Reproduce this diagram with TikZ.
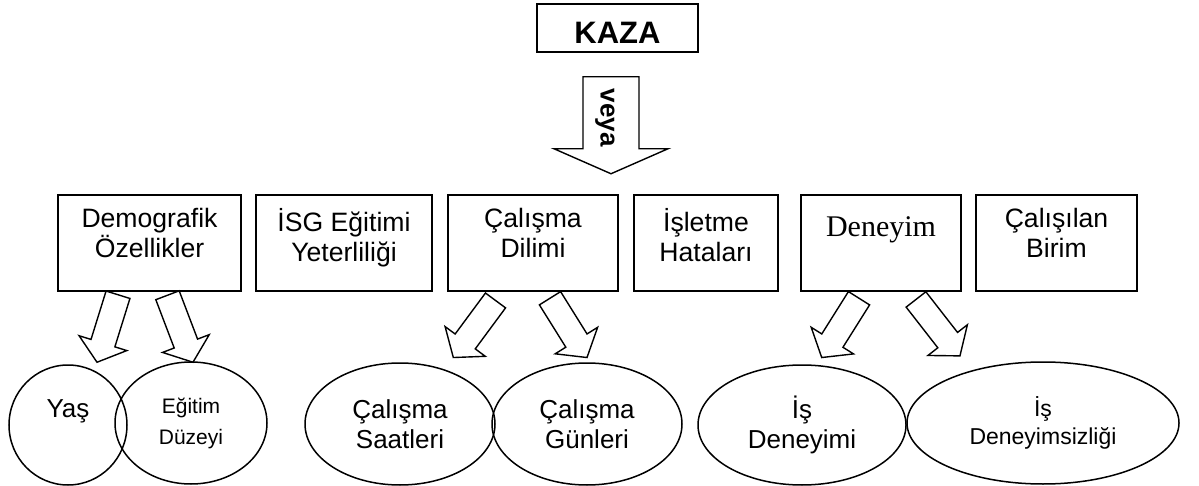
\documentclass[tikz,border=0pt]{standalone}
\usepackage{fontspec}
\setmainfont{Liberation Sans}
\newfontfamily\timesfont{Liberation Serif}
\usetikzlibrary{shapes.geometric,positioning,calc}
\tikzset{every picture/.style={line width=0.75pt}}
\tikzset{
  kutu/.style={draw, rectangle, minimum width=#1, minimum height=48pt, inner sep=0pt},
  kutuyazi/.style={inner sep=0pt, align=center, font=\fontsize{13.3}{15}\selectfont, execute at begin node={\rule{0pt}{12pt}}},
  elips/.style 2 args={draw, ellipse, minimum width=#1, minimum height=#2, inner sep=0pt, align=center, font=\fontsize{13}{15}\selectfont},
  okcizgi/.style={line width=0.7pt, line join=miter}
}
% hollow block arrow: from, to, shaft half width, head half width, head length
\newcommand{\fatarrow}[5]{%
  \draw[okcizgi] let \p1=(#1), \p2=(#2), \n1={atan2(\y2-\y1,\x2-\x1)}, \n2={veclen(\x2-\x1,\y2-\y1)} in
    [shift={(\p1)}, rotate=\n1]
    (0pt,-#3) -- (\n2-#5,-#3) -- (\n2-#5,-#4) -- (\n2,0pt) -- (\n2-#5,#4) -- (\n2-#5,#3) -- (0pt,#3) -- cycle;}

\begin{document}
\begin{tikzpicture}[x=0.5pt,y=-0.5pt]
\useasboundingbox (0,0) rectangle (1199,486);

%Shape: Rectangle (top)
\node[kutu=80.5pt, minimum height=24pt, text height=16pt, font=\fontsize{15.5}{17}\selectfont\bfseries] (kaza) at (617.5,28) {KAZA};

%Shape: Big Arrow
\coordinate (kazaalt) at ($(kaza.south)+(-6.5,24)$);
\coordinate (kazaucu) at ($(kaza.south)+(-6.5,121)$);
\fatarrow{kazaalt}{kazaucu}{14pt}{28.5pt}{12.5pt}
\node[rotate=-90, inner sep=0pt, font=\fontsize{13}{15}\selectfont\bfseries] (veya) at ($(kaza.south)+(-12.5,65)$) {veya};

%Shape: Rectangles (factors)
\node[kutu=91.5pt] (demo) at (149.5,243) {};
\node[kutuyazi, below=6.5pt of demo.north] (demoyazi) {Demografik\\Özellikler};
\node[kutu=88pt] (isg) at (344,243) {};
\node[kutuyazi, below=6.5pt of isg.north] (isgyazi) {İSG Eğitimi\\Yeterliliği};
\node[kutu=85pt] (dilim) at (533,243) {};
\node[kutuyazi, below=6.5pt of dilim.north] (dilimyazi) {Çalışma\\Dilimi};
\node[kutu=72pt] (islet) at (706,243) {};
\node[kutuyazi, below=6.5pt of islet.north] (isletyazi) {İşletme\\Hataları};
\node[kutu=80pt] (deney) at (881,243) {};
\node[kutuyazi, below=9pt of deney.north, font=\timesfont\fontsize{15}{16}\selectfont] (deneyyazi) {Deneyim};
\node[kutu=80.5pt] (birim) at (1056.5,243) {};
\node[kutuyazi, below=6.5pt of birim.north] (birimyazi) {Çalışılan\\Birim};

%Shape: Ellipses
\node[elips={59pt}{60pt}] (yas) at (68,425) {Yaş\\[1pt]\mbox{}};
\node[elips={76pt}{61pt}, font=\fontsize{10.5}{15.5}\selectfont] (egitim) at (191,423) {Eğitim\\Düzeyi};
\node[elips={95pt}{61pt}] (saat) at (400,424) {Çalışma\\Saatleri};
\node[elips={95pt}{61pt}] (gun) at (587,424) {Çalışma\\Günleri};
\node[elips={104pt}{60pt}] (isdeney) at (802,425) {İş\\Deneyimi};
\node[elips={136pt}{61pt}, font=\fontsize{11.5}{14}\selectfont] (isdeneyz) at (1043,423) {İş\\Deneyimsizliği};

%Shape: Small Arrows
\coordinate (d1) at ($(demo.south)+(-31.5,3)$);
\coordinate (d2) at ($(demo.south)+(18,3.5)$);
\coordinate (c1) at ($(dilim.south)+(-37.5,8.7)$);
\coordinate (c2) at ($(dilim.south)+(17,6.5)$);
\coordinate (e1) at ($(deney.south)+(-22,6.5)$);
\coordinate (e2) at ($(deney.south)+(35,7.7)$);
\coordinate (yasucu) at ($(yas.north)+(29,-2)$);
\coordinate (egitimucu) at ($(egitim.north)+(2,1)$);
\coordinate (saatucu) at ($(saat.north)+(53.3,-4.7)$);
\coordinate (gunucu) at ($(gun.north)+(0,-4.7)$);
\coordinate (isdeneyucu) at ($(isdeney.north)+(19.7,-6.7)$);
\coordinate (isdeneyzucu) at ($(isdeneyz.north)+(-83,-5.3)$);
\fatarrow{d1}{yasucu}{6.25pt}{12.5pt}{10pt}
\fatarrow{d2}{egitimucu}{6.25pt}{12.5pt}{10pt}
\fatarrow{c1}{saatucu}{6.25pt}{12.5pt}{10pt}
\fatarrow{c2}{gunucu}{6.25pt}{12.5pt}{10pt}
\fatarrow{e1}{isdeneyucu}{6.25pt}{12.5pt}{10pt}
\fatarrow{e2}{isdeneyzucu}{6.25pt}{12.5pt}{10pt}
\end{tikzpicture}
\end{document}
